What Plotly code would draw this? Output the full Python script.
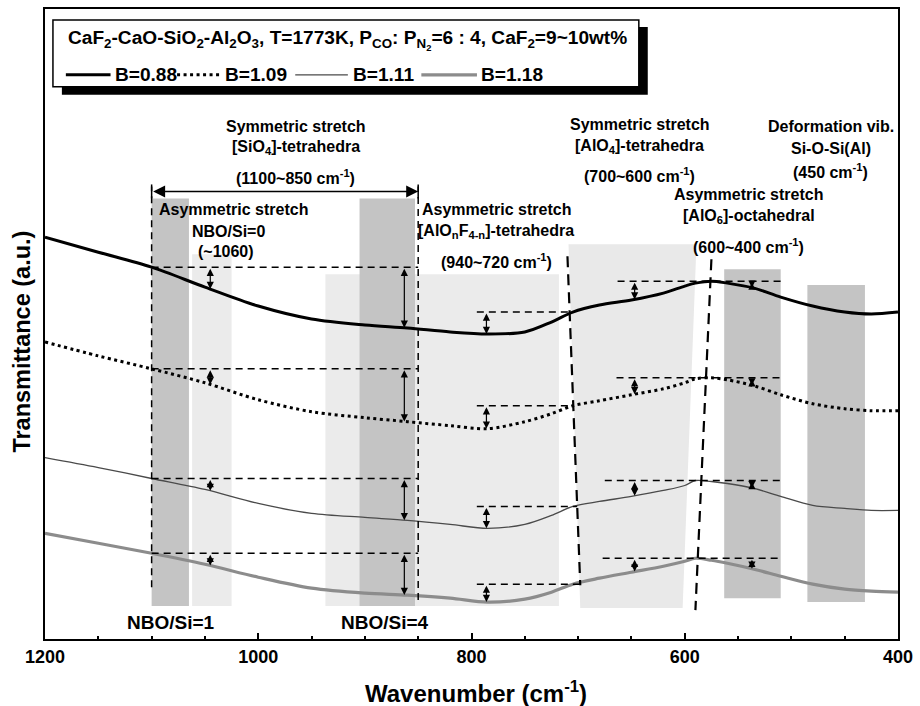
import numpy as np
import plotly.graph_objects as go

# ---------------- data ----------------
wavenumber = [1200, 1150, 1100, 1050, 1000, 950, 900, 860, 820, 785, 750, 725, 705,
              680, 650, 620, 600, 590, 575, 560, 535, 510, 480, 450, 425, 400]

# FT-IR transmittance (a.u., curves offset vertically)
t_b088 = [40.3, 38.8, 37.3, 35.3, 33.4, 32.1, 31.5, 31.2, 30.8, 30.6, 30.8, 31.8, 32.8,
          33.5, 34.0, 34.7, 35.4, 35.7, 35.9, 35.7, 35.2, 34.3, 33.4, 32.8, 32.6, 32.8]
t_b109 = [29.8, 28.4, 27.1, 25.7, 24.0, 22.8, 22.2, 21.8, 21.4, 21.1, 21.8, 22.6, 23.4,
          23.9, 24.5, 25.1, 25.7, 26.1, 26.2, 26.0, 25.4, 24.5, 23.6, 23.1, 22.9, 22.9]
t_b111 = [18.2, 17.2, 16.1, 15.0, 13.6, 12.6, 12.2, 11.9, 11.5, 11.1, 11.5, 12.4, 13.3,
          13.8, 14.3, 14.9, 15.4, 15.9, 15.8, 15.6, 15.1, 14.3, 13.4, 13.1, 12.9, 12.9]
t_b118 = [10.6, 9.6, 8.6, 7.5, 6.2, 5.1, 4.6, 4.4, 4.1, 3.7, 4.0, 4.7, 5.5,
          6.1, 6.7, 7.3, 7.8, 8.1, 7.9, 7.6, 7.0, 6.3, 5.5, 5.0, 4.8, 4.7]
series_names = ["B=0.88", "B=1.09", "B=1.11", "B=1.18"]
legend_title = ("CaF<sub>2</sub>-CaO-SiO<sub>2</sub>-Al<sub>2</sub>O<sub>3</sub>, "
                "T=1773K, P<sub>CO</sub>: P<sub>N<sub>2</sub></sub>=6 : 4, "
                "CaF<sub>2</sub>=9~10wt%")

x_tick_vals = [1200, 1000, 800, 600, 400]
x_tick_text = ["1200", "1000", "800", "600", "400"]

# band assignments (wavenumber limits)
si_window = (1100, 850)          # [SiO4] symmetric stretch
si_arrow_wn = [1045, 863]        # NBO/Si=0 and NBO/Si=4 positions
alf_start_wn = 795               # [AlOnF4-n] window start
alf_arrow_wn = 786
al_peak_range = (560, 620)       # [AlO4]/[AlO6] boundary peak
al_peak_start_wn = [663, 664, 675, 677]
al_peak_end_wn = 509
al_arrow_wn = [647, 537]
dark_bands = [(1100, 1065), (905, 853), (563, 510), (485, 431)]
light_bands = [(1062, 1025), (937, 718)]

# ---------------- styles ----------------
FONT = "Liberation Sans, Arial, Helvetica, sans-serif"
line_styles = [
    dict(color="black", width=3),
    dict(color="black", width=3, dash="3px,3.5px"),
    dict(color="#4a4a4a", width=1.3),
    dict(color="#8c8c8c", width=3.2),
]
DARK = "#c4c4c4"
LIGHT = "#ebebeb"

fig = go.Figure()
curves = [t_b088, t_b109, t_b111, t_b118]
for name, yv, st in zip(series_names, curves, line_styles):
    fig.add_trace(go.Scatter(x=wavenumber, y=yv, mode="lines", name=name, showlegend=False,
                             line=dict(shape="spline", smoothing=0.9, **st)))

shapes = []
annotations = []

# shaded band regions
band_tops_dark = [44.2, 44.2, 37.1, 35.5]
band_bots_dark = [3.3, 3.3, 4.1, 3.7]
band_tops_light = [38.6, 36.6]
for (a, b), top in zip(light_bands, band_tops_light):
    shapes.append(dict(type="rect", xref="x", yref="y", x0=a, x1=b, y0=3.3, y1=top,
                       fillcolor=LIGHT, line=dict(width=0), layer="below"))
# [AlO4] window follows the two slanted boundaries
shapes.append(dict(type="path", xref="x", yref="y",
                   path="M 709,39.6 L 589,39.6 L 602,3.1 L 698,3.1 Z",
                   fillcolor="#e9e9e9", line=dict(width=0), layer="below"))
for (a, b), top, bot in zip(dark_bands, band_tops_dark, band_bots_dark):
    shapes.append(dict(type="rect", xref="x", yref="y", x0=a, x1=b, y0=bot, y1=top,
                       fillcolor=DARK, line=dict(width=0), layer="below"))

wn_arr = np.array(wavenumber, dtype=float)
wn_rev = wn_arr[::-1]


def at(curve, w):
    return float(np.interp(w, wn_rev, np.array(curve[::-1], dtype=float)))


def peak(curve, lo, hi):
    c = np.array(curve, dtype=float)
    m = (wn_arr >= lo) & (wn_arr <= hi)
    return float(c[m].max())


DASH_THIN = dict(color="black", width=1.5, dash="7px,5px")
DASH_THICK = dict(color="black", width=2.2, dash="11px,7px")

# [SiO4] window: vertical bounds and the 1100~850 span arrow
shapes.append(dict(type="line", xref="x", yref="y", x0=si_window[0], x1=si_window[0],
                   y0=5.2, y1=45.4, line=DASH_THIN))
shapes.append(dict(type="line", xref="x", yref="y", x0=si_window[1], x1=si_window[1],
                   y0=3.9, y1=45.4, line=DASH_THIN))
for w in si_window:
    shapes.append(dict(type="line", xref="x", yref="y", x0=w, x1=w, y0=44.2, y1=45.6,
                       line=dict(color="black", width=1.5)))
annotations.append(dict(x=si_window[1], y=44.9, ax=si_window[0], ay=44.9, xref="x", yref="y",
                        axref="x", ayref="y", text="", showarrow=True, arrowside="end+start",
                        arrowhead=2, startarrowhead=2, arrowsize=1.6, arrowwidth=1.5,
                        standoff=0, startstandoff=0, arrowcolor="black"))

# slanted boundaries of the [AlO4] window
slant1 = ((710, 38.4), (698, 5.4))
slant2 = ((575, 38.1), (590, 2.9))
for (p, q) in (slant1, slant2):
    shapes.append(dict(type="line", xref="x", yref="y", x0=p[0], y0=p[1], x1=q[0], y1=q[1],
                       line=DASH_THICK))


def slant_x(seg, level):
    (x0, y0), (x1, y1) = seg
    return x0 + (level - y0) / (y1 - y0) * (x1 - x0)


def double_arrow(w, y_from, y_to):
    annotations.append(dict(x=w, y=y_to, ax=w, ay=y_from, xref="x", yref="y",
                            axref="x", ayref="y", text="", showarrow=True,
                            arrowside="end+start", arrowhead=2, startarrowhead=2,
                            arrowsize=1.2, arrowwidth=1.2, standoff=0, startstandoff=0,
                            arrowcolor="black"))


for i, c in enumerate(curves):
    # reference level at 1100 cm-1
    lvl = at(c, si_window[0])
    shapes.append(dict(type="line", xref="x", yref="y", x0=si_window[0], x1=si_window[1],
                       y0=lvl, y1=lvl, line=DASH_THIN))
    for w in si_arrow_wn:
        double_arrow(w, lvl, at(c, w))
    # [AlOnF4-n] window: level where the curve meets the slanted boundary
    lvl2 = at(c, 705)
    shapes.append(dict(type="line", xref="x", yref="y", x0=alf_start_wn,
                       x1=slant_x(slant1, lvl2), y0=lvl2, y1=lvl2, line=DASH_THIN))
    double_arrow(alf_arrow_wn, lvl2, at(c, alf_arrow_wn))
    # peak level around 580 cm-1
    lvl3 = peak(c, *al_peak_range)
    shapes.append(dict(type="line", xref="x", yref="y", x0=al_peak_start_wn[i],
                       x1=al_peak_end_wn, y0=lvl3, y1=lvl3, line=DASH_THIN))
    for w in al_arrow_wn:
        double_arrow(w, lvl3, at(c, w))

# text labels
LBL = dict(family=FONT, size=16, color="black", weight="bold")
LBL_BIG = dict(family=FONT, size=19, color="black", weight="bold")
labels = [
    (965, 51.4, "Symmetric stretch", LBL),
    (965, 49.3, "[SiO<sub>4</sub>]-tetrahedra", LBL),
    (965, 46.3, "(1100~850 cm<sup>-1</sup>)", LBL),
    (1023, 43.1, "Asymmetric stretch", LBL),
    (1028, 40.9, "NBO/Si=0", LBL),
    (1030, 38.9, "(~1060)", LBL),
    (777, 43.1, "Asymmetric stretch", LBL),
    (777, 40.9, "[AlO<sub>n</sub>F<sub>4-n</sub>]-tetrahedra", LBL),
    (777, 37.9, "(940~720 cm<sup>-1</sup>)", LBL),
    (642, 51.6, "Symmetric stretch", LBL),
    (642, 49.4, "[AlO<sub>4</sub>]-tetrahedra", LBL),
    (642, 46.5, "(700~600 cm<sup>-1</sup>)", LBL),
    (463, 51.4, "Deformation vib.", LBL),
    (463, 49.2, "Si-O-Si(Al)", LBL),
    (463, 46.9, "(450 cm<sup>-1</sup>)", LBL),
    (540, 44.6, "Asymmetric stretch", LBL),
    (540, 42.4, "[AlO<sub>6</sub>]-octahedral", LBL),
    (540, 39.4, "(600~400 cm<sup>-1</sup>)", LBL),
    (1082, 1.7, "NBO/Si=1", LBL_BIG),
    (881, 1.7, "NBO/Si=4", LBL_BIG),
]
for x, y, t, f in labels:
    annotations.append(dict(x=x, y=y, xref="x", yref="y", text=t, showarrow=False,
                            font=f, xanchor="center", yanchor="middle"))

# axis titles
annotations.append(dict(x=-0.027, y=0.472, xref="paper", yref="paper",
                        text="Transmittance (a.u.)", textangle=-90, showarrow=False,
                        xanchor="center", yanchor="middle",
                        font=dict(family=FONT, size=23.5, color="black", weight="bold")))
annotations.append(dict(x=0.5052, y=-0.0839, xref="paper", yref="paper",
                        text="Wavenumber (cm<sup>-1</sup>)", showarrow=False,
                        xanchor="center", yanchor="middle",
                        font=dict(family=FONT, size=24, color="black", weight="bold")))

# ---------------- legend box (with drop shadow) ----------------
LEG_FONT = dict(family=FONT, size=19.1, color="black", weight="bold")
shapes.append(dict(type="rect", xref="paper", yref="paper", x0=0.01979, x1=0.70664,
                   y0=0.86392, y1=0.97152, fillcolor="black", line=dict(width=0),
                   layer="above"))
shapes.append(dict(type="rect", xref="paper", yref="paper", x0=0.00931, x1=0.69616,
                   y0=0.87658, y1=0.98259, fillcolor="white",
                   line=dict(color="black", width=1.5), layer="above"))
annotations.append(dict(x=0.0245, y=0.95095, xref="paper", yref="paper", text=legend_title,
                        showarrow=False, xanchor="left", yanchor="middle", font=LEG_FONT))
leg_y = 0.89557
leg_sample_x = [(0.02445, 0.07683), (0.15483, 0.20605), (0.29336, 0.35506), (0.44121, 0.50640)]
leg_text_x = [0.07916, 0.20838, 0.35855, 0.50873]
for name, st, (xa, xb), xt in zip(series_names, line_styles, leg_sample_x, leg_text_x):
    shapes.append(dict(type="line", xref="paper", yref="paper", x0=xa, x1=xb,
                       y0=leg_y, y1=leg_y, line=st, layer="above"))
    annotations.append(dict(x=xt, y=leg_y, xref="paper", yref="paper", text=name,
                            showarrow=False, xanchor="left", yanchor="middle", font=LEG_FONT))

fig.update_layout(
    width=920, height=706,
    margin=dict(l=45, r=16, t=7, b=67),
    paper_bgcolor="white", plot_bgcolor="white",
    font=dict(family=FONT, color="black", weight="bold"),
    shapes=shapes, annotations=annotations,
    showlegend=False,
    xaxis=dict(
        range=[1200, 400], tickmode="array", tickvals=x_tick_vals, ticktext=x_tick_text,
        ticks="inside", ticklen=6, tickwidth=1.5, tickcolor="black",
        minor=dict(ticks="inside", dtick=50, tick0=400, ticklen=3.5, tickwidth=1.5,
                   tickcolor="black"),
        showline=True, linewidth=2, linecolor="black", mirror=True,
        showgrid=False, zeroline=False,
        tickfont=dict(family=FONT, size=18, weight="bold"),
    ),
    yaxis=dict(
        range=[0, 63.2], showticklabels=False, ticks="",
        showline=True, linewidth=2, linecolor="black", mirror=True,
        showgrid=False, zeroline=False,
    ),
)

fig.write_html("out.html")
